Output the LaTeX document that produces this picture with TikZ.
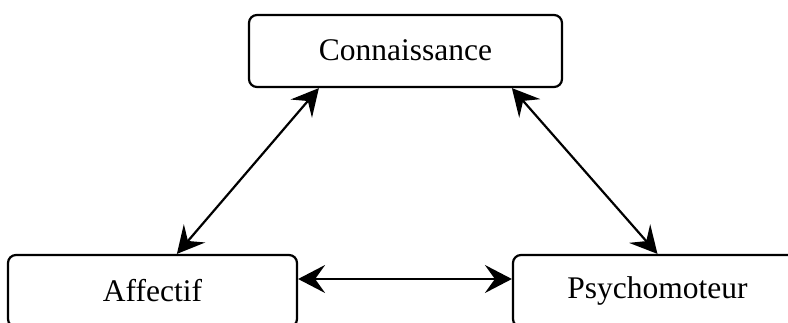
\documentclass[tikz,border=0pt]{standalone}
\usepackage{fontspec}
\setmainfont{Liberation Serif}
\usetikzlibrary{arrows.meta}
\begin{document}
\begin{tikzpicture}[x=1pt,y=1pt,
  box/.style={draw, line width=2.2pt, rounded corners=8pt, minimum width=313pt, minimum height=72pt, inner sep=0pt, font=\fontsize{31.5}{36}\selectfont, anchor=center},
  lowbox/.style={box, minimum width=289pt},
  tip/.tip={Stealth[length=27pt,width=28pt,inset=10pt]},
  dbl/.style={line width=2.2pt, tip-tip}]
\useasboundingbox (0,0) rectangle (788,322);
\clip (0,0) rectangle (788,322);
\fill[white] (0,0) rectangle (788,322);
\node[box] (c) at (405.5,271) {\raisebox{2pt}{Connaissance}};
\node[lowbox] (a) at (152.5,31) {\raisebox{2pt}{Affectif}};
\node[lowbox] (p) at (657.5,31) {\raisebox{2pt}{Psychomoteur}};
\draw[dbl] ([xshift=71pt]c.south west) -- ([xshift=170pt]a.north west);
\draw[dbl] ([xshift=264pt]c.south west) -- (p.north);
\draw[dbl] ([yshift=12pt]a.east) -- ([yshift=12pt]p.west);
\end{tikzpicture}
\end{document}
